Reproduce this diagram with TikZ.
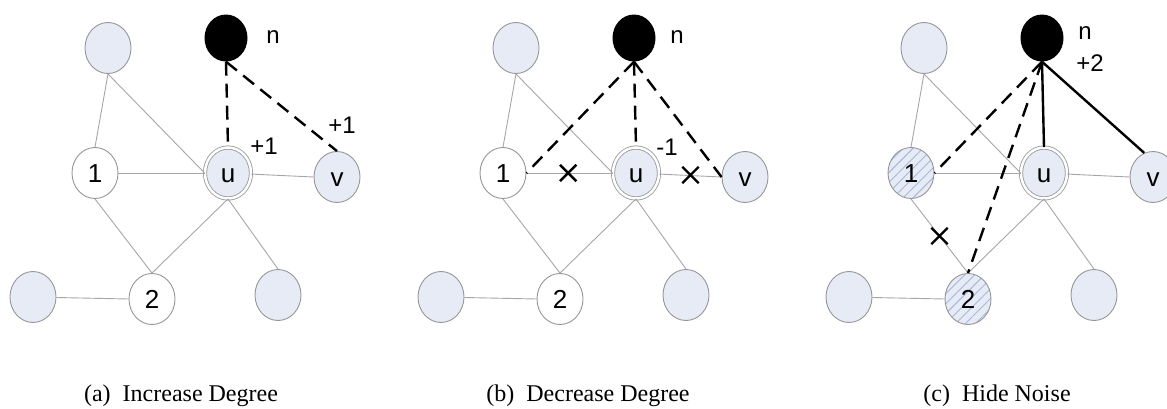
\documentclass[tikz,border=0pt]{standalone}
\usepackage{fontspec}
\setmainfont{Liberation Serif}
\setsansfont{Liberation Sans}
\usetikzlibrary{shapes.geometric, shapes.misc, patterns.meta, calc}

\definecolor{nodefill}{RGB}{230,235,245}
\definecolor{rim}{RGB}{150,150,150}
\definecolor{hatch}{RGB}{165,185,220}

\begin{document}
\begin{tikzpicture}[x=1pt, y=-1pt,
    vertex/.style={ellipse, draw=rim, line width=0.9pt, minimum width=46pt,
      minimum height=51pt, inner sep=0pt, text height=18pt, text depth=0pt,
      font=\sffamily\fontsize{26}{26}\selectfont},
    blank/.style={vertex, fill=white},
    shaded/.style={vertex, fill=nodefill},
    hatched/.style={vertex, preaction={fill=nodefill},
      pattern={Lines[angle=45, distance=7pt, line width=0.9pt]}, pattern color=hatch},
    centre/.style={shaded, double=white, double distance=2.5pt, line width=0.8pt},
    newnode/.style={ellipse, fill=black, minimum width=43pt, minimum height=47pt, inner sep=0pt},
    link/.style={draw=rim!85, line width=0.9pt},
    added/.style={line width=2.4pt, dash pattern=on 14pt off 8pt},
    kept/.style={line width=2.4pt},
    xmark/.style={cross out, draw=black, line width=2.4pt, minimum size=14pt, inner sep=0pt},
    lbl/.style={font=\sffamily\fontsize{24}{24}\selectfont},
    caption/.style={anchor=base, font=\fontsize{24}{24}\selectfont}]
  \useasboundingbox (0,0) rectangle (1167,408);

  % same base graph in all three panels
  \foreach \p/\dx/\inner in {a/0/blank, b/408/blank, c/816/hatched} {
    \begin{scope}[xshift=\dx pt]
      \node[shaded] (tl\p) at (108,48) {};
      \node[newnode] (n\p) at (226,38) {};
      \node[\inner] (one\p) at (95,173) {1};
      \node[centre] (u\p) at (228,173) {u};
      \node[shaded] (v\p) at (337,177) {v};
      \node[\inner] (two\p) at (152,299) {2};
      \node[shaded] (bl\p) at (33,297) {};
      \node[shaded] (br\p) at (278,295) {};
      \draw[link] (tl\p.south) -- (one\p.north);
      \draw[link] (tl\p.south) -- (u\p.west);
      \draw[link] (one\p) -- (u\p);
      \draw[link] (u\p) -- (v\p.west);
      \draw[link] (one\p.south) -- (two\p.north);
      \draw[link] (u\p.south) -- (two\p.north);
      \draw[link] (u\p.south) -- (br\p.north);
      \draw[link] (bl\p) -- (two\p.west);
    \end{scope}
  }

  % (a) increase degree
  \draw[added] (na.south) -- (ua.north);
  \draw[added] (na.south) -- (va.north);
  \node[lbl] (nla) at (273,37) {n};
  \node[lbl] (pua) at (264,146) {+1};
  \node[lbl] (pva) at (342,125) {+1};

  % (b) decrease degree
  \draw[added] (nb.south) -- (oneb.east);
  \draw[added] (nb.south) -- (ub.north);
  \draw[added] (nb.south) -- (vb.west);
  \node[xmark] (xb1) at ($(oneb)!0.49!(ub)$) {};
  \node[xmark] (xb2) at ($(ub)!0.5!(vb)$) {};
  \node[lbl] (nlb) at (677,37) {n};
  \node[lbl] (mub) at (667,147) {-1};

  % (c) hide noise
  \draw[added] (nc.south) -- (onec.east);
  \draw[added] (nc.south) -- (twoc.north);
  \draw[kept] (nc.south) -- (uc.north);
  \draw[kept] (nc.south) -- (vc.110);
  \node[xmark] (xc) at ($(onec)!0.5!(twoc)$) {};
  \node[lbl] (nlc) at (1085,33) {n};
  \node[lbl] (pnc) at (1090,63) {+2};

  \node[caption] (capa) at (181,401) {(a)\ \ Increase Degree};
  \node[caption] (capb) at (588,401) {(b)\ \ Decrease Degree};
  \node[caption] (capc) at (997,401) {(c)\ \ Hide Noise};
\end{tikzpicture}
\end{document}
